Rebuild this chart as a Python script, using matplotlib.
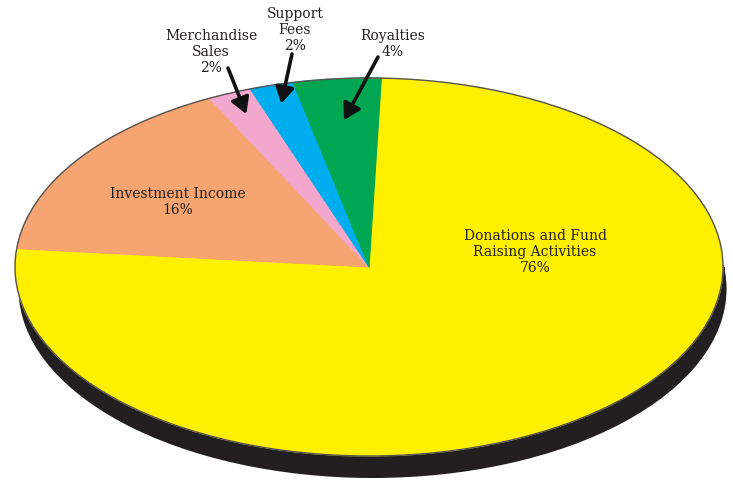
"""Revenue sources pie chart with a flat 3D look."""

import numpy as np
from matplotlib import pyplot as plt
from matplotlib.patches import Ellipse, Rectangle

# Data, in drawing order (clockwise from the top)
categories = [
    "Donations and Fund\nRaising Activities",
    "Investment Income",
    "Merchandise\nSales",
    "Support\nFees",
    "Royalties",
]
shares = [76, 16, 2, 2, 4]
colors = ["#fff000", "#f6a570", "#f2a8cc", "#00aeef", "#00a651"]

# Pixel geometry of the top face: centre and semi-axes
CX, CY, RX, RY = 369, 267, 354, 189
DEPTH = 22  # thickness of the black side, px
INK = "#231f20"


def px(x, y):
    """Pixel position (from the top left) to data coordinates."""
    return (x - CX) / RX, (CY - y) / RY


def label(i):
    return f"{categories[i]}\n{shares[i]}%"


fig = plt.figure(figsize=(7.33, 4.82), dpi=100)
ax = fig.add_axes([0, 0, 1, 1])

wedges, _ = ax.pie(
    shares,
    colors=colors,
    startangle=88,
    counterclock=False,
    radius=1,
    wedgeprops=dict(linewidth=0.8, zorder=3),
)
# edges in the slice's own colour so no seams show between slices
for w, c in zip(wedges, colors):
    w.set_edgecolor(c)

# black side below the top face
d = DEPTH / RY
ax.add_patch(Ellipse((0.01, -d), 2, 2, facecolor=INK, edgecolor="none", zorder=1))
ax.add_patch(Rectangle((-0.995, -d), 2, d, facecolor=INK, edgecolor="none", zorder=1))
# thin rim line round the face
ax.add_patch(Ellipse((0, 0), 2, 2, facecolor="none", edgecolor="#555555", lw=1, zorder=4))

ax.set_aspect("auto")
ax.set_xlim(px(0, 0)[0], px(733, 0)[0])
ax.set_ylim(px(0, 482)[1], px(0, 0)[1])
ax.axis("off")

font = dict(family=["DejaVu Serif"], size=10, color=INK, ha="center", va="center",
            linespacing=1.15, zorder=6)

# labels inside the big slices
ax.text(*px(535, 252), label(0), **font)
ax.text(*px(178, 202), label(1), **font)

# labels above the small slices, with arrows into their wedge
small = {2: ((211, 52), (228, 68), 0.88), 3: ((295, 30), (292, 54), 0.9), 4: ((393, 44), (378, 57), 0.78)}
for i, (text_at, tail, r) in small.items():
    ax.text(*px(*text_at), label(i), **font)
    w = wedges[i]
    mid = np.deg2rad((w.theta1 + w.theta2) / 2)
    ax.annotate(
        "",
        xy=(r * np.cos(mid), r * np.sin(mid)),
        xytext=px(*tail),
        arrowprops=dict(arrowstyle="-|>,head_length=0.6,head_width=0.35", color="#111111",
                        lw=2.6, mutation_scale=16, shrinkA=0, shrinkB=0),
        zorder=7,
    )

fig.savefig("out.png", dpi=100)
